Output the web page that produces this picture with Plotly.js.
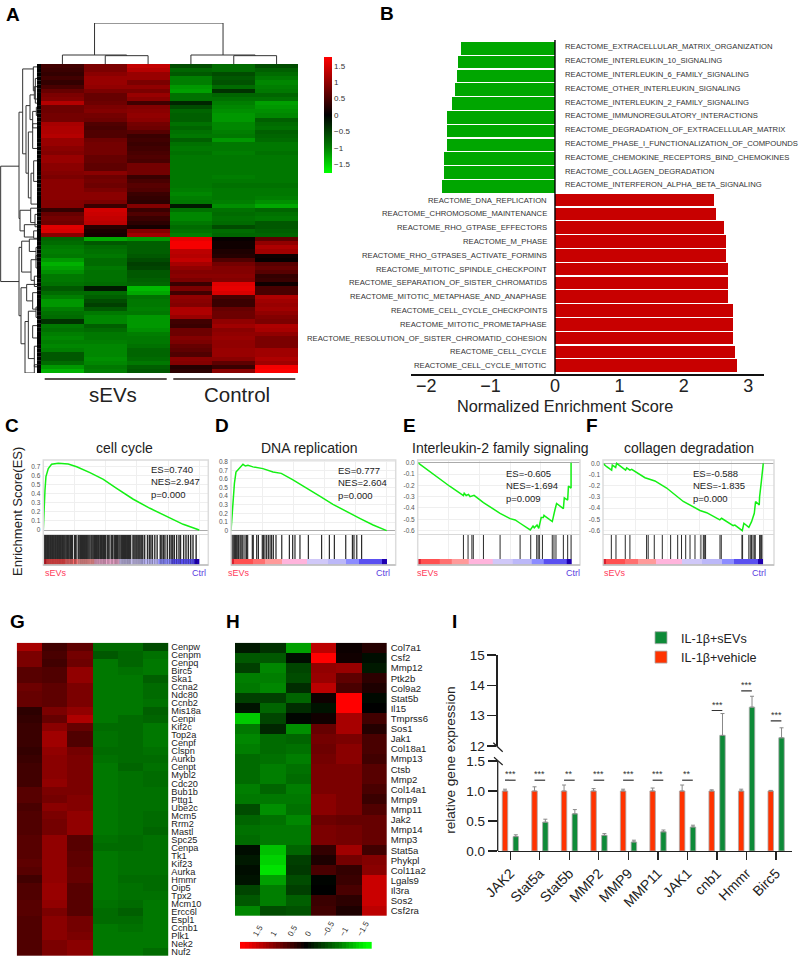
<!DOCTYPE html>
<html><head><meta charset="utf-8">
<script src="https://cdn.plot.ly/plotly-3.0.1.min.js"></script>
<style>html,body{margin:0;padding:0;background:#fff}#c{width:800px;height:957px}</style></head>
<body><div id="c"></div>
<script>
// ---------- DATA ----------
const heatA = [
[.45,.85,1.35,-.6,-.85,-.6],[.4,.85,1.25,-.8,-.85,-.75],[.35,.95,1.05,-.7,-.6,-.85],[.45,1.05,1.05,-1,-.7,-.95],[.35,1.05,.85,-1,-.65,-1.05],
[.5,1,1,-1.15,-.85,-1],[.7,.85,.85,-1.2,-.4,-.95],[.85,.7,1.05,-.9,-.8,-.8],[.9,.7,.95,-.9,-.9,-.9],[1.25,.75,.45,-.3,-1,-1.2],
[.75,.85,.9,-.6,-1.05,-1.15],[.75,.9,.95,-.8,-1.1,-1.1],[.8,.8,1,-.75,-1.15,-1.05],[.8,.75,.95,-.75,-1.15,-.75],[1.15,.55,.8,-.9,-1.05,-.85],
[1.2,.5,.75,-.8,-1.05,-.9],[1.2,.55,.6,-.9,-1,-.75],[1.25,.55,.4,-.95,-.95,-.8],[1.05,.75,.45,-.75,-1.15,-.85],[1.05,.8,.4,-.9,-.95,-.95],
[.95,.8,.45,-.95,-.95,-.95],[.9,.8,.5,-.9,-1,-.9],[1.05,.7,.55,-.95,-.95,-.95],[1.05,.7,.5,-.95,-.95,-.95],[.95,.65,.8,-.95,-.95,-.95],
[.95,.65,.8,-.95,-.95,-.95],[.9,.95,.8,-.95,-.95,-.95],[.85,.75,.4,-.95,-1,-.95],[.95,.8,.5,-.95,-.95,-.95],[.95,.75,.6,-.95,-.9,-.9],
[.95,.85,.55,-1,-.95,-.95],[.95,.95,.4,-1.05,-.95,-.95],[.95,.95,.35,-1,-.95,-1],[.9,.85,.3,-.95,-1,-1.1],[.9,.4,.9,-.2,-1.1,-1.25],
[.35,1.45,.4,-.9,-.9,-.8],[.7,1.4,.55,-1.05,-.85,-.9],[.8,1.35,.4,-1.05,-.9,-.95],[.75,1.3,.3,-.95,-.85,-.7],[1.55,.3,.15,-.85,-.6,-.7],
[1.5,.2,.9,-.9,-.85,-.75],[.95,.15,1.1,-1,-.8,-.8],[-.8,-1.25,-1.15,1.6,.05,.65],[-.85,-.7,-.75,1.7,.1,1],[-.95,-.85,-.75,1.7,.1,1.2],
[-1,-.9,-.75,1.3,.2,1.1],[-.95,-.95,-.7,1.25,.25,.1],[-1.15,-.85,-.6,1.35,.55,.05],[-1.3,-.85,-.5,1.15,.8,.6],[-1.2,-.95,-.55,1,.9,.7],
[-1.1,-.9,-.7,.9,.9,.6],[-.95,-.9,-.7,.95,.95,.35],[-.95,-.9,-.75,.85,.9,.4],[-.9,-.85,-.8,.4,1.55,.1],[-.7,-.2,-1.35,.85,1.6,.5],
[-.85,-.85,-1.25,.45,1.5,.5],[-1,-.75,-.9,1,.5,1.2],[-1.15,-.6,-.95,.95,.4,1.1],[-1.15,-.5,-.95,.9,.4,1.05],[-1,-.7,-1,1.2,.7,1.1],
[-.9,-.95,-.95,1.2,.75,1],[-.85,-1.05,-1.15,1.05,.75,.9],[-.4,-1.05,-1.15,.45,1,.85],[-.95,-.75,-1.15,.4,1.1,1.2],[-.9,-.85,-1.1,.75,.95,1.15],
[-1,-.95,-1,.75,1,1],[-1.05,-.95,-.95,.9,1.05,.85],[-1,-1,-.95,.85,1,.85],[-1.05,-1.05,-.9,.7,1,.85],[-1,-1.05,-.8,.65,1.05,1.1],
[-.7,-1.05,-.8,.55,1.05,1.1],[-.7,-1.1,-.85,.95,.95,1.2],[-.85,-1.05,-.95,.9,.65,1.1],[-1.15,-.95,-.75,.25,.4,1.7],[-1.3,-1,-.7,.3,.95,1.75]];
const colLabelsA = ["sEVs","Control"];
const colorbarTicks = [1.5,1,.5,0,-.5,-1,-1.5];
// dendrograms: [branch A position, branch B position, height A, height B, join height]
const treeTop = [[1,2,0,0,25],[0,1.5,0,25,27],[4,5,0,0,25],[3,4.5,0,25,27],[.75,3.75,27,27,123]];
const treeLeft = [[24.3,52.3,66,66,121],[11.2,37,55,63,66],[.7,21.3,23,45,55],[.2,6,12,17,23],[3,9,12,12,17],
[9.6,26,33,38,45],[7,13,20,25,33],[5,8,12,12,20],[11,15,14,12,25],[10,12,12,12,14],[16,32,25,30,38],[14,20,12,12,25],
[26,33.5,22,12,30],[23,28,12,12,22],[35,40,31,50,63],[34.5,38,12,18,31],[36,39,12,12,18],[38.5,41.5,12,22,50],[40,41.8,12,12,22],
[44,60.6,58,60,66],[42.5,50,35,30,58],[42,45,12,15,35],[44,47,12,12,15],[47,52,15,20,30],[46,49,12,12,15],[51,53.5,12,12,20],
[53.8,67.4,43,48,60],[53,57,12,25,43],[55,59,12,12,25],[62,74.5,38,20,48],[59.5,71,15,20,38],[58.5,61,12,12,15],[68,73,12,12,20],[72.5,74.7,12,12,20],[63,66,12,12,25]];
const negTerms = ["REACTOME_EXTRACELLULAR_MATRIX_ORGANIZATION","REACTOME_INTERLEUKIN_10_SIGNALING","REACTOME_INTERLEUKIN_6_FAMILY_SIGNALING","REACTOME_OTHER_INTERLEUKIN_SIGNALING","REACTOME_INTERLEUKIN_2_FAMILY_SIGNALING","REACTOME_IMMUNOREGULATORY_INTERACTIONS","REACTOME_DEGRADATION_OF_EXTRACELLULAR_MATRIX","REACTOME_PHASE_I_FUNCTIONALIZATION_OF_COMPOUNDS","REACTOME_CHEMOKINE_RECEPTORS_BIND_CHEMOKINES","REACTOME_COLLAGEN_DEGRADATION","REACTOME_INTERFERON_ALPHA_BETA_SIGNALING"];
const negNES = [-1.46,-1.50,-1.52,-1.55,-1.60,-1.67,-1.67,-1.68,-1.73,-1.73,-1.75];
const posTerms = ["REACTOME_DNA_REPLICATION","REACTOME_CHROMOSOME_MAINTENANCE","REACTOME_RHO_GTPASE_EFFECTORS","REACTOME_M_PHASE","REACTOME_RHO_GTPASES_ACTIVATE_FORMINS","REACTOME_MITOTIC_SPINDLE_CHECKPOINT","REACTOME_SEPARATION_OF_SISTER_CHROMATIDS","REACTOME_MITOTIC_METAPHASE_AND_ANAPHASE","REACTOME_CELL_CYCLE_CHECKPOINTS","REACTOME_MITOTIC_PROMETAPHASE","REACTOME_RESOLUTION_OF_SISTER_CHROMATID_COHESION","REACTOME_CELL_CYCLE","REACTOME_CELL_CYCLE_MITOTIC"];
const posNES = [2.47,2.50,2.62,2.65,2.66,2.68,2.68,2.68,2.77,2.77,2.77,2.80,2.83];
const esRankC = [0,.43,1.07,1.7,3.2,5.3,9.6,16,21.4,29.9,38.5,47,57.7,68.4,79,89.7,100];
const esC = [0,.22,.44,.59,.68,.727,.738,.73,.70,.635,.56,.46,.34,.24,.148,.063,0];
const hitsC = [0,.6,1.3,1.9,2.6,3.2,3.8,4.5,5.1,5.8,6.4,7,7.7,8.3,9,9.6,10.3,10.9,11.5,12.2,12.8,13.4,14,14.7,15.4,16,16.6,17.5,18.2,18.6,20,20.6,21,22.4,23,23.8,24.4,25.2,25.9,26.5,27.2,27.8,28.5,29.2,29.9,30.7,31.3,32,32.7,33.4,34,34.6,35.3,35.8,36.6,37.2,37.8,38.6,39.2,39.9,41,41.6,42.2,43.5,44,44.5,45.5,46.3,47,47.7,48.5,49.2,50,50.7,51.3,52,52.6,53.2,54,54.7,55.3,56,57.5,58.1,58.8,59.5,60.1,60.8,61.4,62,62.7,63.3,63.8,65,66.8,68,69,70,71.5,73,75,76,77,78,79.5,81,82,83,84,85.5,87,88,90,91.5,93,94.5,96,98];
const esRankD = [0,.64,1.5,2.2,3.2,4.7,6.2,7.7,9.2,10.9,14.1,20.5,27,32.3,39.8,48.4,57,65.5,74.1,82.7,91.3,100];
const esD = [0,.16,.39,.55,.68,.71,.74,.77,.75,.76,.74,.72,.68,.665,.59,.49,.40,.305,.22,.143,.066,0];
const hitsD = [0,.6,1.3,1.9,2.4,2.8,3.4,3.9,4.5,4.9,5.8,6.4,7.1,7.7,9,10,10.7,13.7,14.3,16.5,17.6,20.1,20.8,21.8,22.9,24,25.1,26.1,27.2,28.9,32.6,37.5,39.6,41.1,44.3,49.7,58.2,63.2,66.4,73.7,78,79,80.8,83.9];
const esRankE = [0,10.2,21,29.7,30.2,31.5,33,34,36.6,42.7,53.5,60,63.3,66.5,73.1,74.9,75.7,77.5,78.6,80.2,81.6,82,82.4,87.4,88.1,89.1,90.2,94.6,95.2,97.4,97.9,99.6,99.6];
const esE = [0,-.103,-.21,-.29,-.27,-.29,-.28,-.3,-.288,-.353,-.447,-.494,-.506,-.535,-.594,-.56,-.575,-.55,-.58,-.485,-.485,-.465,-.47,-.52,-.47,-.418,-.36,-.406,-.31,-.33,-.206,-.224,0];
const hitsE = [29.7,32.7,35.2,36.1,42.7,53.5,66.5,73.4,77.3,78.2,79,81,87.4,88.5,89.8,94.6,97.4,99.6];
const esRankF = [0,2.3,5.4,5.8,7.9,8.5,14.1,14.8,16.8,17.9,26.2,32.4,39.7,50.1,60.5,64.7,72.9,74,81.2,82.3,86.9,87.9,91,92.7,94.4,95.2,97.5,97.7,98.8,99.4,100];
const esF = [0,-.03,-.06,-.015,-.036,0,-.06,-.04,-.06,-.053,-.128,-.157,-.22,-.34,-.42,-.44,-.504,-.49,-.555,-.55,-.6,-.534,-.57,-.52,-.445,-.34,-.37,-.30,-.163,-.09,0];
const hitsF = [5.2,8.1,13.9,16.8,27.2,28.2,32,37,42.2,46.6,49,51.6,54.3,57.4,61.1,62.6,63.2,64,73,73.8,86.7,87.1,91,91.9,92.7,93.6,94.4,95,97.7,98.4,98.8,99.2];
const rankEdges = [0,2,14,22,33,49,62,74,82,97,100];
const rankLevels = [9,8,7,6,5,4,3,2,1,0];
const genesG = ["Cenpw","Cenpm","Cenpq","Birc5","Ska1","Ccna2","Ndc80","Ccnb2","Mis18a","Cenpi","Kif2c","Top2a","Cenpf","Clspn","Aurkb","Cenpt","Mybl2","Cdc20","Bub1b","Pttg1","Ube2c","Mcm5","Rrm2","Mastl","Spc25","Cenpa","Tk1","Kif23","Aurka","Hmmr","Oip5","Tpx2","Mcm10","Ercc6l","Espl1","Ccnb1","Plk1","Nek2","Nuf2"];
const heatG = [[1.15,.45,.65,-.85,-.85,-.6],[.85,.5,.8,-.7,-.8,-.9],[.85,.45,.75,-.95,-.8,-.95],[.6,.55,1,-.95,-.9,-.95],[.6,.55,1,-.95,-.95,-.75],[.75,.65,.85,-.95,-.95,-.85],[.7,.65,.85,-.95,-.95,-.85],[.7,.65,.85,-.95,-.95,-.9],[.3,.85,1,-.95,-.95,-.75],[.35,.7,1.2,-.95,-.85,-.8],[.4,.95,.7,-.85,-.85,-.95],[.4,1.1,.55,-.9,-.85,-.95],[.4,1.1,.55,-.9,-.85,-.95],[.35,1,.8,-.85,-.85,-.9],[.4,.95,.85,-.9,-.85,-.85],[.45,.95,.85,-.95,-.8,-.9],[.45,.95,.85,-.95,-.9,-.85],[.45,1,.85,-.95,-.9,-.85],[.6,.85,.85,-.95,-.9,-.9],[.6,.8,.9,-.95,-.9,-.9],[.5,.95,.9,-.95,-.9,-.9],[.55,.85,1,-.95,-.9,-.85],[.55,.8,1,-.95,-.9,-.85],[.55,.8,1,-.95,-.9,-.8],[.6,1,.6,-.9,-.85,-.9],[.6,1,.6,-.85,-.85,-.9],[.6,1,.65,-.95,-.9,-.9],[.65,1,.65,-.95,-.9,-.9],[.6,1,.7,-.95,-.9,-.9],[.45,1,.7,-.95,-.85,-.85],[.55,1.05,.6,-.95,-.9,-.85],[.55,1.05,.6,-.95,-.9,-.9],[.6,1,.6,-.9,-.85,-.95],[.6,.85,.6,-.85,-.75,-.95],[.55,.95,.8,-.85,-.85,-.95],[.55,.95,.8,-.95,-.9,-.95],[.55,.95,.85,-.95,-.95,-.95],[.55,.85,.95,-.95,-.95,-.95],[.55,.85,.95,-.95,-.95,-.85]];
const genesH = ["Col7a1","Csf2","Mmp12","Ptk2b","Col9a2","Stat5b","Il15","Tmprss6","Sos1","Jak1","Col18a1","Mmp13","Ctsb","Mmp2","Col14a1","Mmp9","Mmp11","Jak2","Mmp14","Mmp3","Stat5a","Phykpl","Col11a2","Lgals9","Il3ra","Sos2","Csf2ra"];
const heatH = [[-.2,-.4,-1.2,1.3,.08,.25],[-.7,-.7,-.1,1.77,.12,-.1],[-.5,-1.05,-.55,1,1.05,-.2],[-1,-1,-.6,1.05,.65,.3],[-.95,-1.05,-.35,1.3,.5,.2],[-.5,-.5,-.8,.1,1.77,-.07],[-.15,-.8,-.35,-.15,1.77,0],[-1.45,-.55,-.05,.12,1.15,.45],[-.95,-.3,-1.1,.7,1.15,.25],[-1.05,-.85,-.8,.8,.85,.5],[-1,-.85,-.9,.75,.95,.5],[-.85,-.9,-1,.8,.95,.45],[-.85,-1,-.9,.85,.85,.6],[-.85,-1,-.85,.85,.85,.6],[-1,-.8,-1,.85,.85,.5],[-.95,-.95,-.95,.95,.85,.4],[-.6,-1.1,-.9,.95,.85,.55],[-.8,-.9,-1.05,.75,.7,.7],[-.9,-.95,-.95,.85,.8,.7],[-.85,-.95,-.95,.85,.8,.7],[-.1,-1.4,-.8,.35,1.1,.45],[-.2,-1.5,-.5,.2,.8,.9],[-.1,-1.6,-.45,.5,.35,.95],[-.15,-1.2,-.6,-.03,.4,1.4],[-.55,-1,-.5,0,.5,1.4],[-.7,-1,-.75,.4,.3,1.4],[-1.05,-.6,-.65,.45,.2,1.3]];
const scaleLevels = [1.9,1.8,1.7,1.6,1.5,1.4,1.3,1.2,1.1,1,.9,.8,.7,.6,.5,.4,.3,.2,.1,0,-.1,-.2,-.3,-.4,-.5,-.6,-.7,-.8,-.9,-1,-1.1,-1.2,-1.3,-1.4,-1.5,-1.6,-1.7,-1.8,-1.9];
const barGenes = ["JAK2","Stat5a","Stat5b","MMP2","MMP9","MMP11","JAK1","cnb1","Hmmr","Birc5"];
const vehicle = [1,1,1,1,1,1,1,1,1,1];
const vehicleErr = [.03,.07,.1,.04,.03,.05,.1,.02,.03,.01];
const sevs = [.24,.48,.62,.26,.15,.32,.40,12.35,13.28,12.27];
const sevsErr = [.03,.05,.07,.03,.03,.03,.03,.72,.36,.33];
const noErr = [0,0,0,0,0,0,0,0,0,0];
const sigStars = ["***","***","**","***","***","***","**","***","***","***"];
const sigHeight = [1.18,1.18,1.18,1.18,1.18,1.18,1.18,13.17,13.82,12.83];

// ---------- HELPERS ----------
const W=800,H=957,FONT='"Liberation Sans",Arial,sans-serif';
const fx=p=>p/W, fy=p=>1-p/H;
const RG=[[0,'#00ff00'],[.22,'#007d00'],[.5,'#000000'],[.78,'#900000'],[1,'#ff0000']], ZM=1.77;
const layout={width:W,height:H,margin:{l:0,r:0,t:0,b:0},paper_bgcolor:'#fff',plot_bgcolor:'rgba(0,0,0,0)',font:{family:FONT,color:'#222'},showlegend:true,
  legend:{x:fx(641),y:fy(623),xanchor:'left',yanchor:'top',font:{size:12.6,color:'#222'},bgcolor:'rgba(0,0,0,0)',itemclick:false},
  annotations:[],shapes:[],bargap:0};
const traces=[]; let n=0;
const hidden={visible:false,fixedrange:true};
function sub(x0,x1,y0,y1,xo,yo){n++;const s=n===1?'':n;
  layout['xaxis'+s]=Object.assign({},hidden,{domain:[fx(x0),fx(x1)],anchor:'y'+s},xo);
  layout['yaxis'+s]=Object.assign({},hidden,{domain:[fy(y1),fy(y0)],anchor:'x'+s},yo);
  return {xaxis:'x'+s,yaxis:'y'+s};}
function ann(text,x,y,size,o){layout.annotations.push(Object.assign({text,x:fx(x),y:fy(y),xref:'paper',yref:'paper',showarrow:false,font:{size,family:FONT,color:'#222'},xanchor:'center',yanchor:'middle'},o||{}));}
function line(x0,y0,x1,y1,color,width){layout.shapes.push({type:'line',xref:'paper',yref:'paper',x0:fx(x0),x1:fx(x1),y0:fy(y0),y1:fy(y1),line:{color,width}});}
function hline(t,tree,swap){const a=[],b=[];for(const [p,q,ha,hb,h] of tree){a.push(p,p,q,q,null);b.push(ha,h,h,hb,null);}return swap?{x:b,y:a}:{x:a,y:b};}

// ---------- PANEL A ----------
const aHeat=sub(41,298,64,373,{range:[-.5,5.5]},{range:[74.5,-.5]});
traces.push(Object.assign({type:'heatmap',z:heatA,x:[0,1,2,3,4,5],colorscale:RG,zmin:-ZM,zmax:ZM,hoverinfo:'skip',showlegend:false,
  colorbar:{x:fx(324),xanchor:'left',xref:'paper',y:fy(57),yanchor:'top',yref:'paper',len:116,lenmode:'pixels',thickness:8,thicknessmode:'pixels',outlinewidth:0,xpad:0,ypad:0,ticks:'',tickvals:colorbarTicks,tickfont:{size:8,color:'#333'}}},aHeat));
const aTop=sub(41,298,23,64,{range:[-.5,5.5]},{range:[0,123]});
traces.push(Object.assign({type:'scatter',mode:'lines',line:{color:'#333',width:1},hoverinfo:'skip',showlegend:false},hline(0,treeTop,false),aTop));
const aLeft=sub(0,41,64,373,{range:[123,0]},{range:[74.5,-.5]});
{const sx=[],sy=[];heatA.forEach((r,i)=>{sx.push(0,12,null);sy.push(i,i,null);});
traces.push(Object.assign({type:'scatter',mode:'lines',x:sx,y:sy,line:{color:'#000',width:4.3},hoverinfo:'skip',showlegend:false},aLeft));}
traces.push(Object.assign({type:'scatter',mode:'lines',line:{color:'#333',width:1},hoverinfo:'skip',showlegend:false},hline(0,treeLeft,true),aLeft));
line(44.7,379,166.7,379,'#231815',1.6); line(173.3,379,295.3,379,'#231815',1.6);
ann(colLabelsA[0],113,394,20.5); ann(colLabelsA[1],237,394,20.5);

// ---------- PANEL B ----------
const terms=negTerms.concat(posTerms);
const bAx=sub(410.7,764,41.4,374,{visible:true,range:[-2.24,3.245],showgrid:false,zeroline:false,showline:true,linecolor:'#111',linewidth:1.6,ticks:'',ticklabelstandoff:-5,tickvals:[-2,-1,0,1,2,3],tickfont:{size:18,color:'#222'}},
  {type:'category',categoryorder:'array',categoryarray:terms,range:[23.6,-.5]});
traces.push(Object.assign({type:'bar',orientation:'h',x:negNES,y:negTerms,width:.92,marker:{color:'#00a600'},hoverinfo:'skip',showlegend:false},bAx));
traces.push(Object.assign({type:'bar',orientation:'h',x:posNES,y:posTerms,width:.92,marker:{color:'#c80000'},hoverinfo:'skip',showlegend:false},bAx));
layout.shapes.push({type:'line',xref:bAx.xaxis,yref:'paper',x0:0,x1:0,y0:fy(374),y1:fy(40),line:{color:'#000',width:1.4}});
const tf={size:7.68,family:FONT,color:'#333'};
negTerms.forEach(t=>layout.annotations.push({text:t,xref:bAx.xaxis,yref:bAx.yaxis,x:0,y:t,xshift:8.2,yshift:1.5,xanchor:'left',yanchor:'middle',showarrow:false,font:tf}));
posTerms.forEach(t=>layout.annotations.push({text:t,xref:bAx.xaxis,yref:bAx.yaxis,x:0,y:t,xshift:-6.2,xanchor:'right',yanchor:'middle',showarrow:false,font:tf}));
ann('Normalized Enrichment Score',565,405.7,16.3);

// ---------- PANELS C-F ----------
const rankScale=[[0,'#2000b0'],[.111,'#5a50f0'],[.222,'#8c8cff'],[.333,'#bcb8f8'],[.444,'#d0c8f8'],[.556,'#ffb4dc'],[.667,'#ff9a9a'],[.778,'#ff7070'],[.889,'#ff5050'],[1,'#d82030']];
function gsea(o){
  const g={showgrid:true,gridcolor:'#efefef',gridwidth:1};
  const xo={visible:true,range:[0,o.xmax],showticklabels:false,ticks:'',zeroline:false,showline:false,tickvals:[20,40,60,80,100],...g};
  const es=sub(o.x0,o.x1,460,o.esBottom,xo,{visible:true,range:o.yr,tickvals:o.tv,ticktext:o.tt,ticks:'',ticklabelstandoff:2,tickfont:{size:6.5,color:'#555'},zeroline:true,zerolinecolor:'#aaa',zerolinewidth:1,showline:false,...g});
  traces.push(Object.assign({type:'scatter',mode:'lines',x:o.rx,y:o.ry,line:{color:'#14f014',width:1.5},hoverinfo:'skip',showlegend:false,cliponaxis:false},es));
  const hi=sub(o.x0,o.x1,535,559,xo,{range:[0,1]});
  const hx=[],hy=[];o.hits.forEach(v=>{hx.push(v,v,null);hy.push(0,1,null);});
  traces.push(Object.assign({type:'scatter',mode:'lines',x:hx,y:hy,line:{color:'#2a2a2a',width:o.hw},hoverinfo:'skip',showlegend:false},hi));
  const rk=sub(o.x0,o.x1,559,565,xo,{range:[0,1]});
  traces.push(Object.assign({type:'heatmap',x:rankEdges,y:[0,1],z:[rankLevels],colorscale:rankScale,zmin:0,zmax:9,showscale:false,hoverinfo:'skip',showlegend:false},rk));
  if(o.overlay) traces.push(Object.assign({type:'scatter',mode:'lines',x:hx,y:hy,line:{color:'#000',width:1},opacity:.3,hoverinfo:'skip',showlegend:false},rk));
  layout.shapes.push({type:'rect',xref:'paper',yref:'paper',x0:fx(o.x0),x1:fx(o.x1),y0:fy(565),y1:fy(460),line:{color:'#dcdcdc',width:1.5}});
  line(o.x0,534.5,o.x1,534.5,'#d8d8d8',1); line(o.x0,565,o.x1,565,'#aaaaaa',1);
  ann(o.title,o.tcx,447.5,14);
  ann(o.stats,o.sx-1.5,o.sy,9.5,{xanchor:'left',align:'left'});
  ann('sEVs',o.lx,573,9,{font:{size:9,family:FONT,color:'#ff3a5a'}});
  ann('Ctrl',o.rxl,573,9,{font:{size:9,family:FONT,color:'#5a40e0'}});
}
gsea({x0:43.3,x1:208.3,xmax:105.8,esBottom:531,yr:[-.011,.774],tv:[0,.1,.2,.3,.4,.5,.6,.7],tt:['0','0.1','0.2','0.3','0.4','0.5','0.6','0.7'],rx:esRankC,ry:esC,hits:hitsC,hw:1.4,overlay:true,title:'cell cycle',tcx:124,stats:'ES=0.740<br>NES=2.947<br>p=0.000',sx:150.7,sy:481.6,lx:55.7,rxl:199});
gsea({x0:231,x1:395.7,xmax:105.8,esBottom:531.5,yr:[-.01,.82],tv:[0,.1,.2,.3,.4,.5,.6,.7,.8],tt:['0','0.1','0.2','0.3','0.4','0.5','0.6','0.7','0.8'],rx:esRankD,ry:esD,hits:hitsD,hw:1.2,title:'DNA replication',tcx:309,stats:'ES=0.777<br>NES=2.604<br>p=0.000',sx:337.7,sy:483,lx:239,rxl:383});
gsea({x0:417.7,x1:580,xmax:105.4,esBottom:534,yr:[-.63,.024],tv:[0,-.1,-.2,-.3,-.4,-.5,-.6],tt:['0.0','-0.1','-0.2','-0.3','-0.4','-0.5','-0.6'],rx:esRankE,ry:esE,hits:hitsE,hw:1,title:'Interleukin-2 family signaling',tcx:500.7,stats:'ES=-0.605<br>NES=-1.694<br>p=0.009',sx:505.7,sy:485.7,lx:428,rxl:572.7});
gsea({x0:603,x1:774,xmax:106.7,esBottom:534,yr:[-.63,.03],tv:[0,-.1,-.2,-.3,-.4,-.5,-.6],tt:['0.0','-0.1','-0.2','-0.3','-0.4','-0.5','-0.6'],rx:esRankF,ry:esF,hits:hitsF,hw:1,title:'collagen degradation',tcx:689,stats:'ES=-0.588<br>NES=-1.835<br>p=0.000',sx:692.7,sy:486,lx:615,rxl:759});
ann('Enrichment Score(ES)',17,512,13,{textangle:-90});

// ---------- PANELS G, H ----------
function geneHeat(z,genes,x0,x1,y0,y1,size,off){
  const a=sub(x0,x1,y0,y1,{range:[-.5,5.5]},{visible:true,type:'category',range:[genes.length-.5,-.5],side:'right',tickmode:'linear',dtick:1,ticks:'',ticklabelstandoff:off,showgrid:false,zeroline:false,showline:false,tickfont:{size,color:'#222'}});
  traces.push(Object.assign({type:'heatmap',z,x:[0,1,2,3,4,5],y:genes,colorscale:RG,zmin:-ZM,zmax:ZM,showscale:false,hoverinfo:'skip',showlegend:false},a));
}
geneHeat(heatG,genesG,16.7,168.3,642.7,956,9.2,2);
geneHeat(heatH,genesH,235,386.7,642.7,916,9.6,3);
const sc=sub(240,371.7,941.7,949,{visible:true,range:[1.9,-1.9],side:'top',tickvals:colorbarTicks,tickangle:-60,ticks:'',showgrid:false,zeroline:false,showline:false,tickfont:{size:8,color:'#333'}},{range:[-.5,.5]});
traces.push(Object.assign({type:'heatmap',z:[scaleLevels],x:scaleLevels,y:[0],colorscale:RG,zmin:-ZM,zmax:ZM,showscale:false,hoverinfo:'skip',showlegend:false},sc));

// ---------- PANEL I ----------
const barX={type:'category',categoryorder:'array',categoryarray:barGenes,range:[-.427,9.53]};
const iLow=sub(497.7,791.7,746,851,Object.assign({visible:true,showline:true,linecolor:'#222',linewidth:1.3,ticks:'outside',ticklen:7.5,tickwidth:1.2,tickcolor:'#222',tickangle:-45,tickfont:{size:14,color:'#222'},showgrid:false,zeroline:false},barX),
  {visible:true,range:[0,1.75],tickvals:[0,.5,1,1.5],ticktext:['0.0','0.5','1.0','1.5'],ticks:'outside',ticklen:9,tickwidth:1.2,tickcolor:'#222',tickfont:{size:13.5,color:'#222'},showgrid:false,zeroline:false,showline:false});
const iUp=sub(497.7,791.7,655,746,barX,{visible:true,range:[12,15],tickvals:[12,13,14,15],ticks:'outside',ticklen:9,tickwidth:1.2,tickcolor:'#222',tickfont:{size:13.5,color:'#222'},showgrid:false,zeroline:false,showline:true,linecolor:'#222',linewidth:1.3});
function barSeries(name,y,err,color,offset,ax,show){
  traces.push(Object.assign({type:'bar',name,x:barGenes,y,width:.186,offset,marker:{color,line:{color:'#aaaaaa',width:.8}},
    error_y:{type:'data',symmetric:false,array:err,arrayminus:noErr,color:'#888888',thickness:1,width:2},hoverinfo:'skip',showlegend:show},ax));
}
barSeries('IL-1β+sEVs',sevs,sevsErr,'#0e8a38',.093,iLow,true);
barSeries('IL-1β+vehicle',vehicle,vehicleErr,'#ff3300',-.273,iLow,true);
barSeries('IL-1β+sEVs',sevs,sevsErr,'#0e8a38',.093,iUp,false);
barSeries('IL-1β+vehicle',vehicle,vehicleErr,'#ff3300',-.273,iUp,false);
layout.barmode='overlay';
layout.shapes.push({type:'line',xref:iLow.xaxis+' domain',yref:iLow.yaxis,x0:0,x1:0,y0:0,y1:1.5,line:{color:'#222',width:1.3}});
barGenes.forEach((g,i)=>{
  const ax=i<7?iLow:iUp, h=sigHeight[i];
  layout.shapes.push({type:'line',xref:ax.xaxis,yref:ax.yaxis,x0:i-.18,x1:i+.18,y0:h,y1:h,line:{color:'#333',width:1.2}});
  layout.annotations.push({text:sigStars[i],xref:ax.xaxis,yref:ax.yaxis,x:i,y:h,yanchor:'bottom',yshift:-1,showarrow:false,font:{size:9,color:'#333',family:FONT}});
});
line(493.3,742.7,502.7,751.7,'#222',1.2); line(494,757.3,502.7,765,'#222',1.2);
ann('relative gene expression',451,760.8,13.6,{textangle:-90});

// ---------- PANEL LETTERS ----------
[['A',13,14],['B',387,13],['C',12,425],['D',221.6,425],['E',410,425],['F',592,425],['G',17,621],['H',233,621],['I',454,621]].forEach(([t,x,y])=>ann(t,x,y,19,{font:{size:19,family:FONT,color:'#000',weight:'bold'}}));

Plotly.newPlot('c',traces,layout,{displayModeBar:false,staticPlot:true});
</script></body></html>
